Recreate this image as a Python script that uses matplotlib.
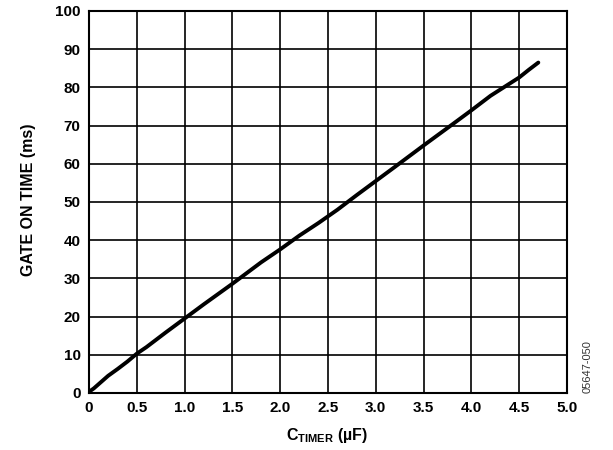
import matplotlib
matplotlib.use("Agg")
import matplotlib.pyplot as plt

plt.rcParams['font.family'] = ['Liberation Sans', 'DejaVu Sans']
plt.rcParams['mathtext.fontset'] = 'custom'
plt.rcParams['mathtext.rm'] = 'Liberation Sans:bold'
plt.rcParams['mathtext.bf'] = 'Liberation Sans:bold'

# data
c_timer = [0.0, 0.05, 0.1, 0.2, 0.3, 0.4, 0.5, 0.6, 0.8, 1.0, 1.2, 1.5, 1.8, 2.0, 2.2,
           2.4, 2.6, 2.8, 3.0, 3.2, 3.5, 3.8, 4.0, 4.2, 4.4, 4.5, 4.6, 4.7]
gate_on = [0.3, 1.2, 2.3, 4.5, 6.3, 8.2, 10.3, 12.0, 15.8, 19.5, 23.2, 28.6, 34.2, 37.6, 41.2,
           44.5, 48.0, 51.8, 55.5, 59.2, 64.8, 70.3, 74.0, 77.8, 81.0, 82.6, 84.6, 86.5]
xticks = [0, 0.5, 1.0, 1.5, 2.0, 2.5, 3.0, 3.5, 4.0, 4.5, 5.0]
xlabels = ['0', '0.5', '1.0', '1.5', '2.0', '2.5', '3.0', '3.5', '4.0', '4.5', '5.0']
yticks = list(range(0, 101, 10))

fig = plt.figure(figsize=(6.13, 4.5), dpi=100)
ax = fig.add_axes([89 / 613, 1 - 393 / 450, (567 - 89) / 613, (393 - 11) / 450])

ax.plot(c_timer, gate_on, color='black', linewidth=2.8, solid_capstyle='round')

ax.set_xlim(0, 5.0)
ax.set_ylim(0, 100)
ax.set_xticks(xticks)
ax.set_xticklabels(xlabels)
ax.set_yticks(yticks)
ax.grid(True, color='black', linewidth=1.2)
ax.set_axisbelow(True)
for s in ax.spines.values():
    s.set_linewidth(1.5)
ax.tick_params(length=0, pad=6, labelsize=11)
for lbl in ax.get_xticklabels() + ax.get_yticklabels():
    lbl.set_fontweight('bold')

ax.set_xlabel(r'$\mathbf{C_{TIMER}}$ (µF)', fontsize=11.5, fontweight='bold', va='center')
ax.set_ylabel('GATE ON TIME (ms)', fontsize=11.5, fontweight='bold', va='center')
ax.xaxis.set_label_coords(0.499, -0.11)
ax.yaxis.set_label_coords(-0.126, 0.505)

fig.text(588 / 613, 1 - 367 / 450, '05647-050', rotation=90, fontsize=8,
         color='#333333', ha='center', va='center')

fig.savefig('out.png', dpi=100)
